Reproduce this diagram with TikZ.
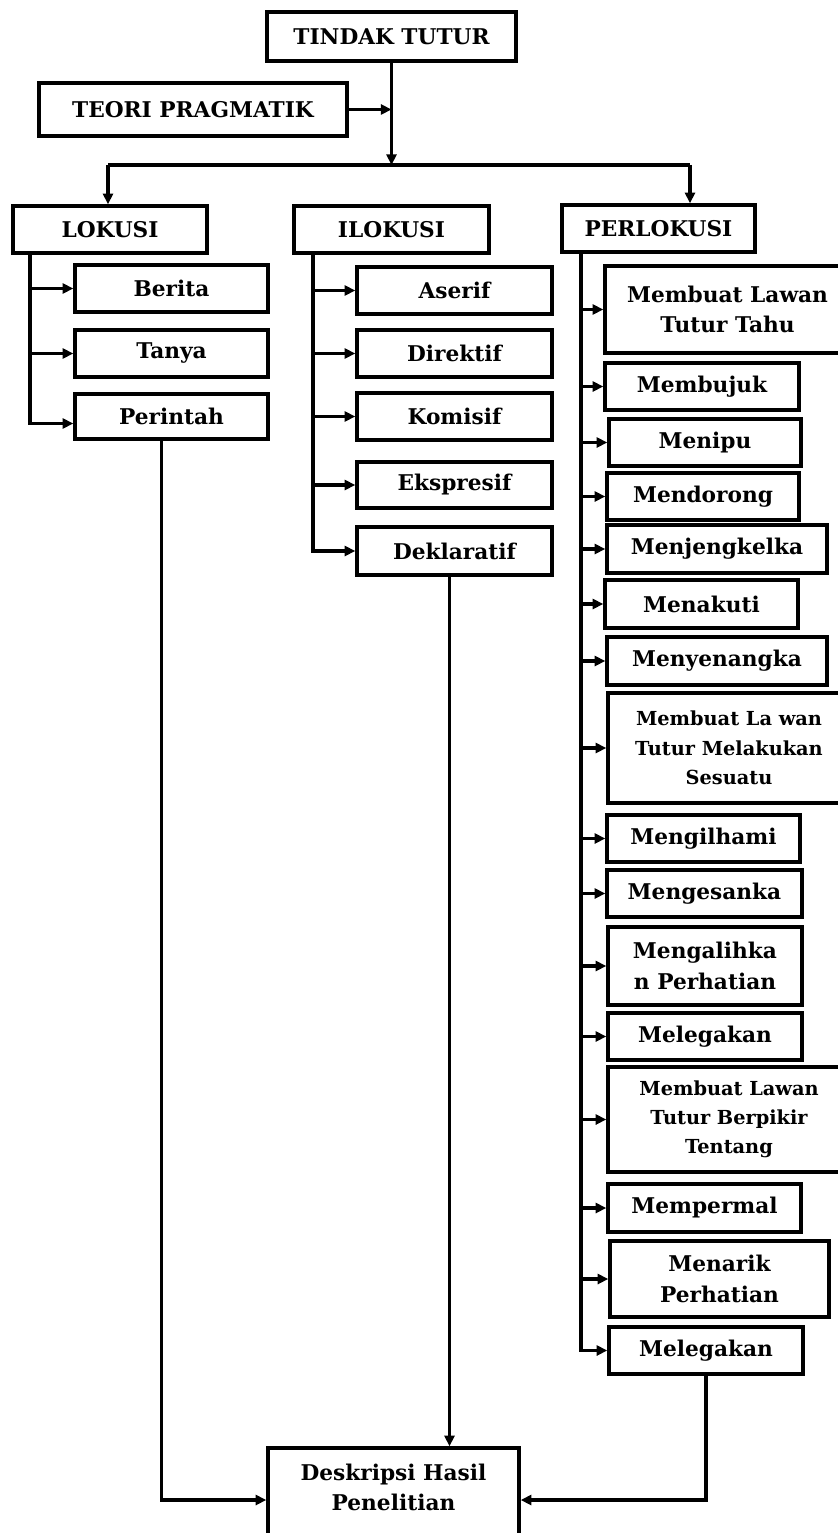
\documentclass[tikz,border=0pt]{standalone}
\usepackage{fontspec}
\setmainfont{DejaVu Serif}
\usetikzlibrary{arrows.meta,calc}
\newcommand\fs{\fontsize{18.5pt}{26pt}\selectfont\bfseries}
\newcommand\fss{\fontsize{16.5pt}{25pt}\selectfont\bfseries}
\tikzset{
 bx/.style={draw, line width=3pt, inner sep=0pt, align=center, font=\fs},
 ln/.style={line width=3pt},
 arr/.style={ln, -{Triangle[length=9pt,width=8.5pt]}},
}
\newcommand\bnode[7][]{\node[bx,#1, minimum width={(#5-#3)*0.3mm}, minimum height={(#6-#4)*0.3mm}] (#2) at ({(#3+#5)/2},{(#4+#6)/2}) {#7};}
\begin{document}
\begin{tikzpicture}[x=0.3mm,y=-0.3mm]
\clip (0,0) rectangle (838,1533);
\fill[white] (0,0) rectangle (838,1533);
% top
\bnode{tindak}{267}{12}{516}{61}{TINDAK TUTUR}
\bnode{teori}{39}{83}{347}{136}{TEORI PRAGMATIK}
\bnode{lokusi}{13}{206}{207}{253}{LOKUSI}
\bnode{ilokusi}{294}{206}{489}{253}{ILOKUSI}
\bnode{perlokusi}{562}{205}{755}{252}{PERLOKUSI}
% lokusi
\bnode{berita}{75}{265}{268}{312}{Berita}
\bnode{tanya}{75}{330}{268}{377}{Tanya}
\bnode{perintah}{75}{394}{268}{439}{Perintah}
% ilokusi
\bnode{aserif}{357}{267}{552}{314}{Aserif}
\bnode{direktif}{357}{330}{552}{377}{Direktif}
\bnode{komisif}{357}{393}{552}{440}{Komisif}
\bnode{ekspresif}{357}{462}{552}{508}{Ekspresif}
\bnode{deklaratif}{357}{527}{552}{575}{Deklaratif}
% perlokusi
\bnode{p1}{605}{266}{850}{353}{Membuat Lawan\\Tutur Tahu}
\bnode{p2}{605}{363}{799}{410}{Membujuk}
\bnode{p3}{609}{419}{801}{466}{Menipu}
\bnode{p4}{607}{473}{799}{520}{Mendorong}
\bnode{p5}{607}{525}{827}{573}{Menjengkelka}
\bnode{p6}{605}{580}{798}{628}{Menakuti}
\bnode{p7}{607}{637}{827}{685}{Menyenangka}
\bnode[font=\fss]{p8}{608}{693}{850}{803}{Membuat La wan\\Tutur Melakukan\\Sesuatu}
\bnode{p9}{607}{815}{800}{862}{Mengilhami}
\bnode{p10}{607}{870}{802}{917}{Mengesanka}
\bnode{p11}{608}{927}{802}{1005}{Mengalihka\\n Perhatian}
\bnode{p12}{608}{1013}{802}{1060}{Melegakan}
\bnode[font=\fss]{p13}{608}{1067}{850}{1172}{Membuat Lawan\\Tutur Berpikir\\Tentang}
\bnode{p14}{608}{1184}{801}{1232}{Mempermal}
\bnode{p15}{610}{1241}{829}{1317}{Menarik\\Perhatian}
\bnode{p16}{609}{1327}{803}{1374}{Melegakan}
% result
\bnode{desk}{268}{1448}{519}{1552}{}
\node[font=\fs, align=center] (desktext) at ($(desk.north)+(0,41)$) {Deskripsi Hasil\\Penelitian};
% top connectors
\coordinate (jn) at (391.5,165);
\coordinate (hl) at (108,165);
\coordinate (hr) at (690,165);
\draw[ln] (hl) -- (hr);
\draw[arr] (tindak.south) -- (jn);
\draw[arr] (teori.east) -- (teori.east -| jn);
\draw[arr] (hl) -- (hl |- lokusi.north);
\draw[arr] (hr) -- (hr |- perlokusi.north);
% lokusi branches
\coordinate (lt) at ($(lokusi.south west)+(19,0)$);
\draw[arr] (lt) |- ([yshift=-2.1mm]perintah.west);
\draw[arr] (lt |- berita.west) -- (berita.west);
\draw[arr] (lt |- tanya.west) -- (tanya.west);
% ilokusi branches
\coordinate (it) at ($(ilokusi.south west)+(21,0)$);
\draw[arr] (it) |- (deklaratif.west);
\foreach \n in {aserif,direktif,komisif,ekspresif}
  \draw[arr] (it |- \n.west) -- (\n.west);
% perlokusi branches
\coordinate (pt) at ($(perlokusi.south west)+(21,0)$);
\draw[arr] (pt) |- (p16.west);
\foreach \n in {p1,p2,p3,p4,p5,p6,p7,p8,p9,p10,p11,p12,p13,p14,p15}
  \draw[arr] (pt |- \n.west) -- (\n.west);
% to result
\draw[arr] ([xshift=-3mm]perintah.south) |- (desk.west);
\draw[arr] ([xshift=-1.5mm]deklaratif.south) -- ([xshift=-1.5mm]deklaratif.south |- desk.north);
\draw[arr] (p16.south) |- (desk.east);
\end{tikzpicture}
\end{document}
